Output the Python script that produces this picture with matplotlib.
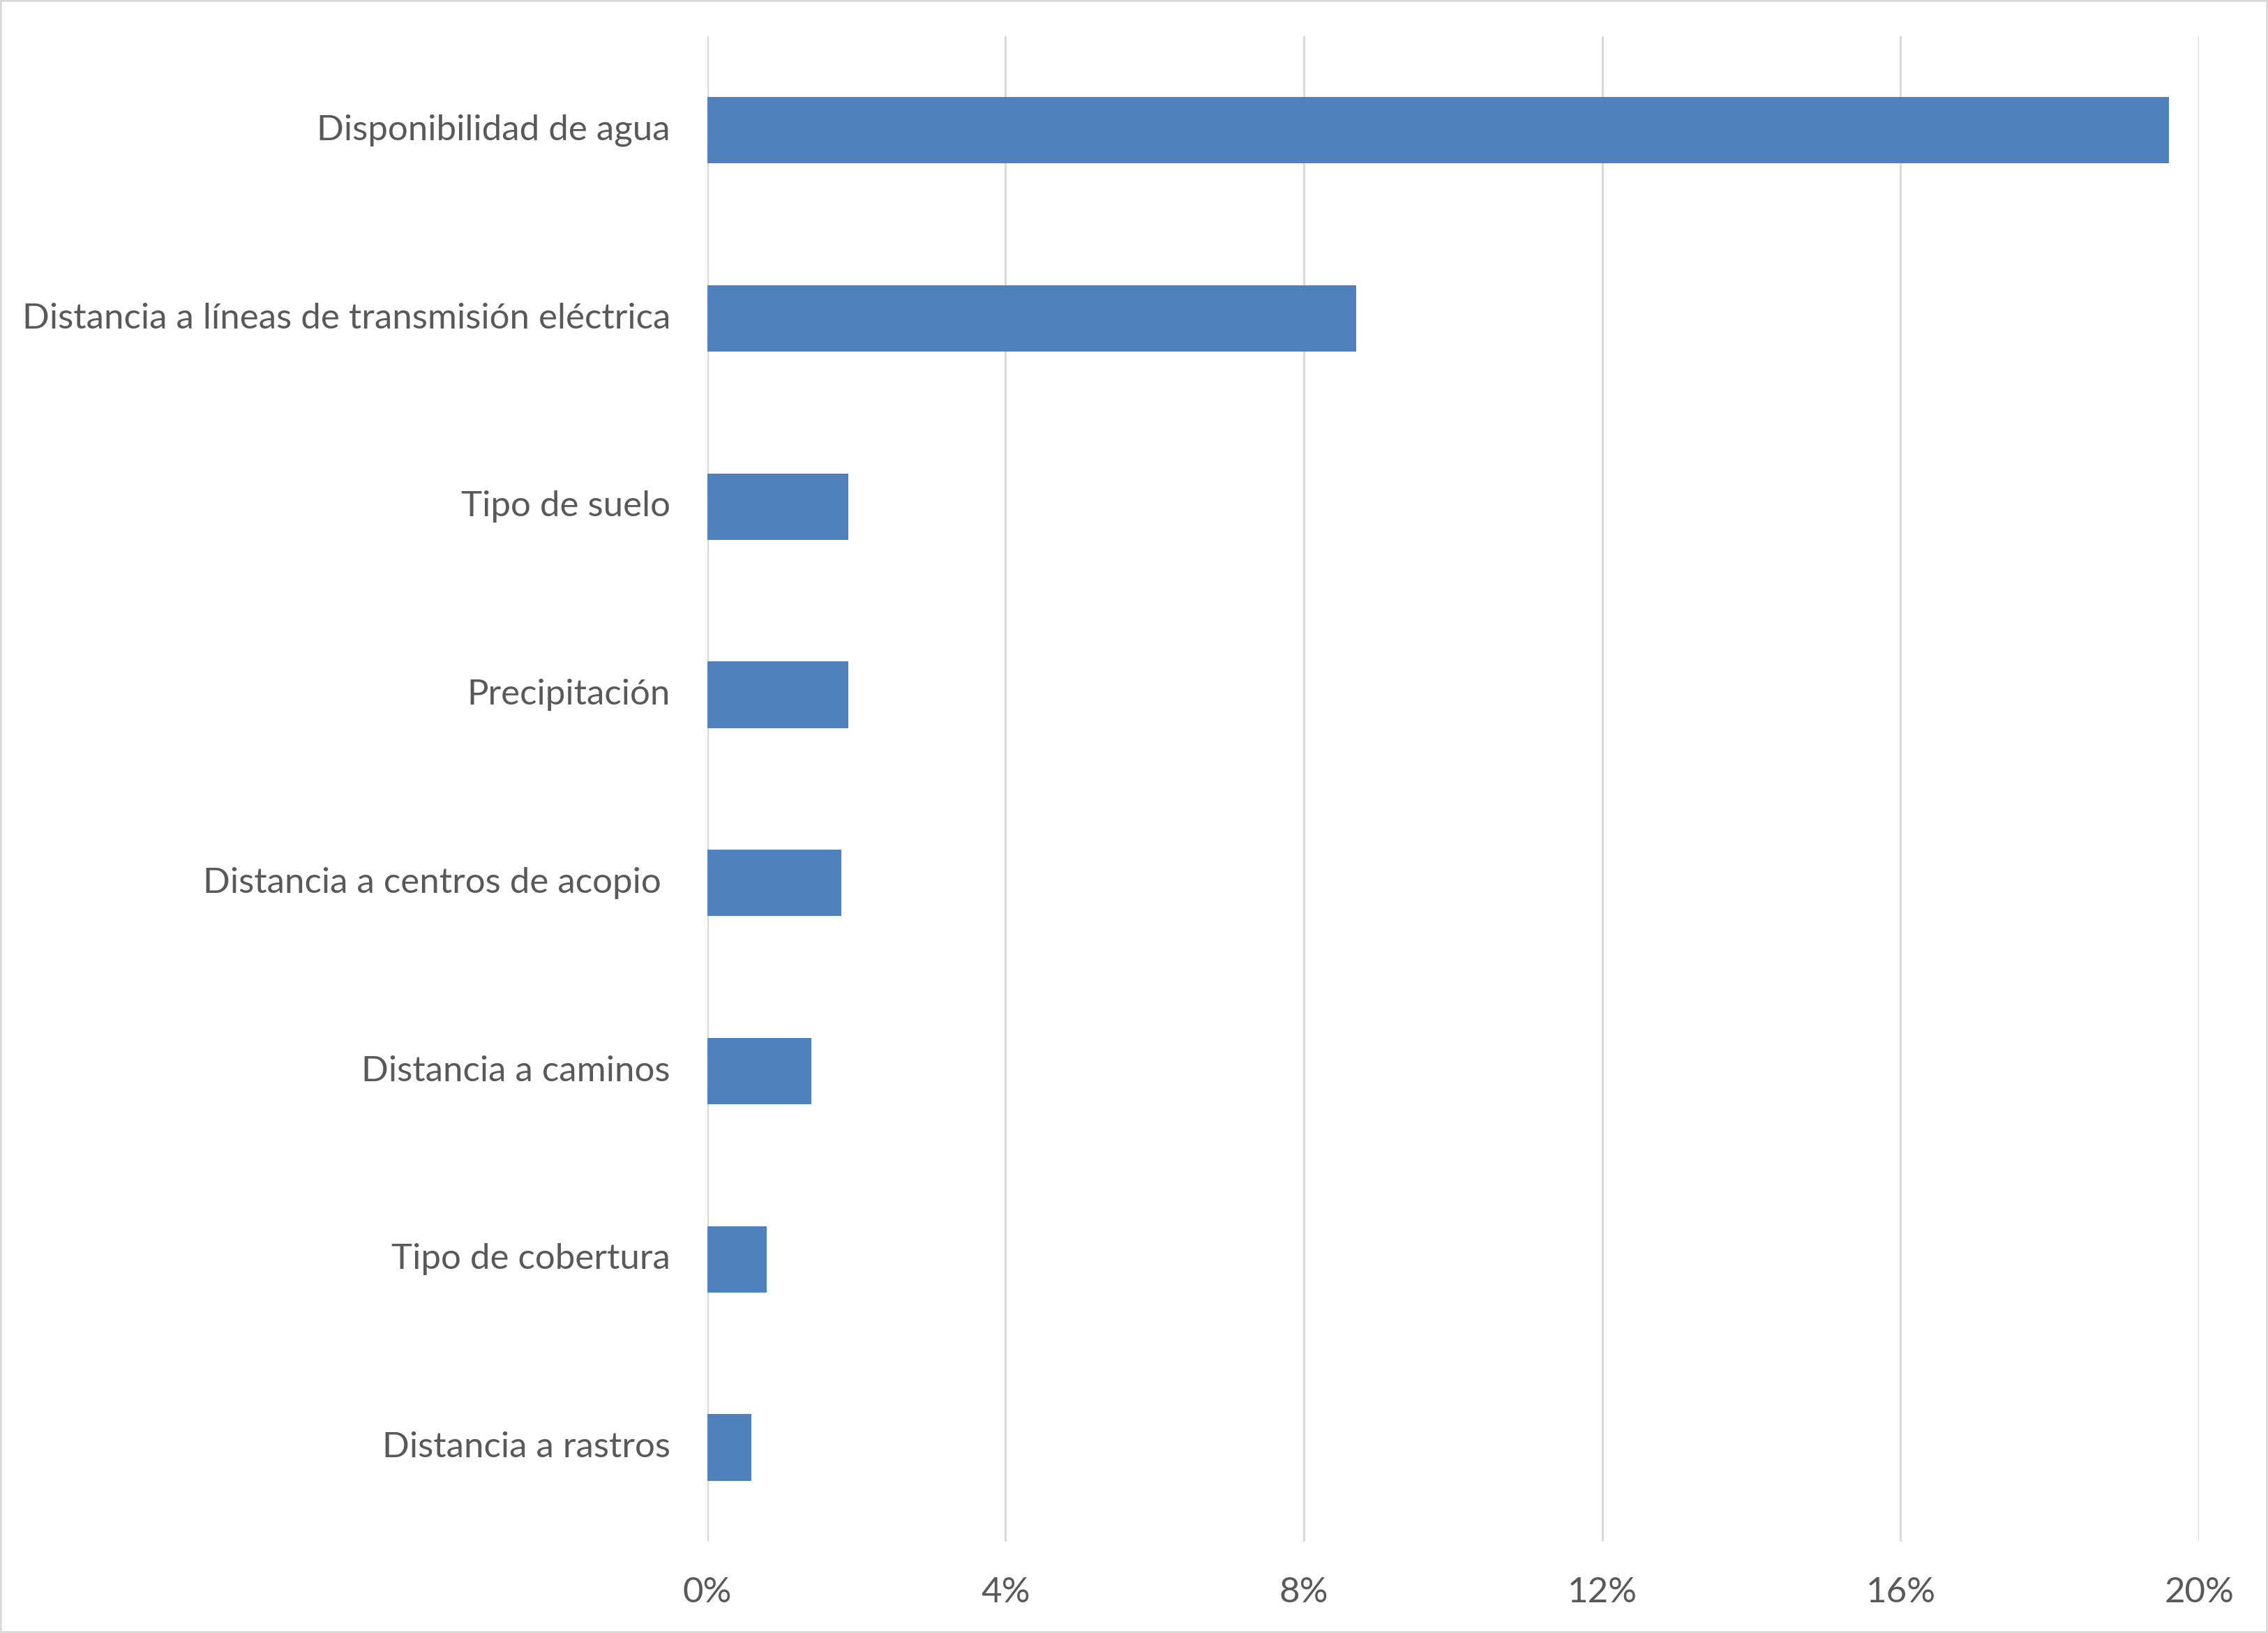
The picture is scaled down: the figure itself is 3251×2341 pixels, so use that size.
import matplotlib.pyplot as plt
import matplotlib.ticker as mtick
from matplotlib.patches import Rectangle

factores = ['Disponibilidad de agua',
            'Distancia a líneas de transmisión eléctrica',
            'Tipo de suelo',
            'Precipitación',
            'Distancia a centros de acopio ',
            'Distancia a caminos',
            'Tipo de cobertura',
            'Distancia a rastros']
pesos = [19.6, 8.7, 1.89, 1.89, 1.80, 1.40, 0.80, 0.59]
ticks = [0, 4, 8, 12, 16, 20]

plt.rcParams['font.family'] = ['Lato', 'DejaVu Sans']

fig = plt.figure(figsize=(32.51, 23.41), dpi=100)
ax = fig.add_axes([0.3118, 0.056, 0.9696 - 0.3118, 0.9778 - 0.056])

y = list(range(len(factores)))
ax.barh(y, pesos, height=0.353, color='#4f81bd', zorder=3)
ax.set_ylim(len(factores) - 0.5, -0.5)
ax.set_xlim(0, 20)
ax.set_yticks(y)
ax.set_yticklabels(factores, va='center')
ax.set_xticks(ticks)
ax.xaxis.set_major_formatter(mtick.FuncFormatter(lambda v, p: '%d%%' % v))

ax.grid(axis='x', color='#d9d9d9', linewidth=2.2, zorder=0)
for s in ax.spines.values():
    s.set_visible(False)
ax.tick_params(axis='both', length=0, labelsize=36.7, labelcolor='#595959')
ax.tick_params(axis='y', pad=38)
ax.tick_params(axis='x', pad=36)

fig.patches.append(Rectangle((0, 0), 1, 1, transform=fig.transFigure,
                             fill=False, edgecolor='#d9d9d9', linewidth=4))

fig.savefig('out.png', dpi=100, facecolor='white')
